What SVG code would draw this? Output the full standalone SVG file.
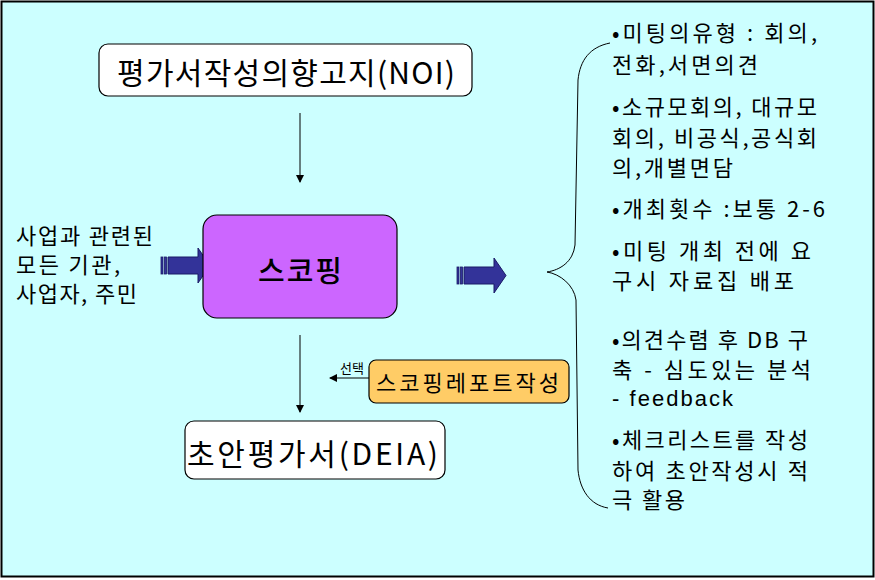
<svg xmlns="http://www.w3.org/2000/svg" width="875" height="580" viewBox="0 0 875 580">
<style>
  .k { font-family: "Noto Sans CJK KR", "Liberation Sans", sans-serif; fill: #000; }
  .box { stroke: #000; stroke-width: 1.2; }
  .ln { stroke: #000; stroke-width: 1; fill: none; }
  .blk { fill: #333399; stroke: #1a1a66; stroke-width: 1; }
  .r { font-size: 22px; }
</style>
<defs>
  <marker id="ah" markerWidth="8" markerHeight="8" refX="7" refY="4" orient="auto" markerUnits="userSpaceOnUse">
    <path d="M0,0 L8,4 L0,8 z" fill="#000"/>
  </marker>
  <g id="blockArrow">
    <rect x="0" y="9" width="2" height="17" fill="#333399" stroke="#1a1a66" stroke-width="0.8"/>
    <rect x="3.5" y="9" width="2" height="17" fill="#333399" stroke="#1a1a66" stroke-width="0.8"/>
    <path d="M7,9 L37,9 L37,0 L49,17.5 L37,35 L37,26 L7,26 z" class="blk"/>
  </g>
</defs>
<rect x="0" y="0" width="875" height="580" fill="#ffffff"/>
<rect x="1.5" y="1.5" width="872" height="575" fill="#CCFFFF" stroke="#000" stroke-width="2"/>

<g id="connectors">
  <line x1="300" y1="113" x2="300" y2="182" class="ln" marker-end="url(#ah)"/>
  <line x1="300" y1="335" x2="300" y2="412" class="ln" marker-end="url(#ah)"/>
  <line x1="370" y1="378" x2="330" y2="378" class="ln" marker-end="url(#ah)"/>
  <text x="340" y="373" class="k" font-size="13">선택</text>
  <use href="#blockArrow" x="161" y="248"/>
  <use href="#blockArrow" x="457" y="258"/>
  <path d="M610,43 C590,47 580,60 578,80 L575,245 C573,262 560,270 547,272 C560,274 574,285 576,300 L578,470 C580,490 590,505 608,508" class="ln"/>
</g>

<g id="noi">
  <rect x="99" y="44" width="373" height="52" rx="9" fill="#fff" class="box"/>
  <text x="117" y="84" class="k" font-size="30" textLength="338" lengthAdjust="spacing">평가서작성의향고지(NOI)</text>
</g>

<g id="scoping">
  <rect x="203" y="215" width="194" height="103" rx="14" fill="#CC66FF" class="box"/>
  <text x="258" y="282" class="k" font-size="29" font-weight="500" textLength="84" lengthAdjust="spacing">스코핑</text>
</g>

<g id="stakeholders">
  <text class="k" font-size="22"><tspan x="16" y="244" textLength="137" lengthAdjust="spacing">사업과 관련된</tspan><tspan x="16" y="273" textLength="104" lengthAdjust="spacing">모든 기관,</tspan><tspan x="16" y="302" textLength="121" lengthAdjust="spacing">사업자, 주민</tspan></text>
</g>

<g id="report">
  <rect x="369" y="360" width="200" height="43" rx="7" fill="#FFCC66" class="box"/>
  <text x="376" y="391" class="k" font-size="22" textLength="183" lengthAdjust="spacing">스코핑레포트작성</text>
</g>

<g id="deia">
  <rect x="185" y="421" width="260" height="58" rx="9" fill="#fff" class="box"/>
  <text x="187" y="465" class="k" font-size="30" textLength="251" lengthAdjust="spacing">초안평가서(DEIA)</text>
</g>

<g id="notes">
  <text class="k r">
    <tspan x="612" y="41" textLength="205" lengthAdjust="spacing">•미팅의유형 : 회의,</tspan>
    <tspan x="612" y="73" textLength="146" lengthAdjust="spacing">전화,서면의견</tspan>
    <tspan x="612" y="115" textLength="205" lengthAdjust="spacing">•소규모회의, 대규모</tspan>
    <tspan x="612" y="146" textLength="205" lengthAdjust="spacing">회의, 비공식,공식회</tspan>
    <tspan x="612" y="176" textLength="121" lengthAdjust="spacing">의,개별면담</tspan>
    <tspan x="612" y="217" textLength="213" lengthAdjust="spacing">•개최횟수 :보통 2-6</tspan>
    <tspan x="612" y="259" textLength="199" lengthAdjust="spacing">•미팅 개최 전에 요</tspan>
    <tspan x="612" y="289" textLength="182" lengthAdjust="spacing">구시 자료집 배포</tspan>
    <tspan x="612" y="348" textLength="196" lengthAdjust="spacing">•의견수렴 후 DB 구</tspan>
    <tspan x="612" y="378" textLength="199" lengthAdjust="spacing">축 - 심도있는 분석</tspan>
  </text>
  <text x="612" y="406" font-family="Liberation Sans, Arial, sans-serif" font-size="22" textLength="121" lengthAdjust="spacing">- feedback</text>
  <text class="k r">
    <tspan x="612" y="448" textLength="196" lengthAdjust="spacing">•체크리스트를 작성</tspan>
    <tspan x="612" y="479" textLength="196" lengthAdjust="spacing">하여 초안작성시 적</tspan>
    <tspan x="612" y="508" textLength="73" lengthAdjust="spacing">극 활용</tspan>
  </text>
</g>
</svg>
